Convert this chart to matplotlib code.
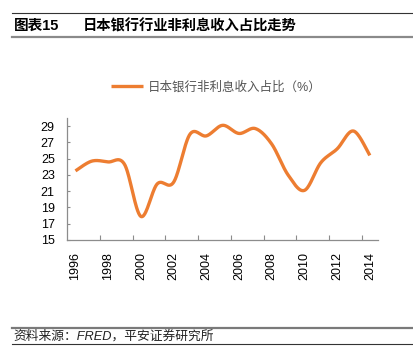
import numpy as np
import matplotlib
matplotlib.use("Agg")
import matplotlib.pyplot as plt
from matplotlib.lines import Line2D

plt.rcParams['font.family'] = ['Liberation Sans', 'Noto Sans CJK SC', 'DejaVu Sans']

years = [1996, 1997, 1998, 1999, 2000, 2001, 2002, 2003, 2004, 2005,
         2006, 2007, 2008, 2009, 2010, 2011, 2012, 2013, 2014]
ratio = [23.5, 24.7, 24.6, 24.3, 17.9, 21.9, 22.1, 28.0, 27.8, 29.1,
         28.1, 28.7, 26.8, 23.0, 21.1, 24.5, 26.2, 28.4, 25.4]
xtick_labels = ['1996', '1998', '2000', '2002', '2004', '2006', '2008', '2010', '2012', '2014']
yticks = [15, 17, 19, 21, 23, 25, 27, 29]
series_name = '日本银行非利息收入占比（%）'
title_num = '图表15'
title_text = '日本银行行业非利息收入占比走势'
source_text = '资料来源：FRED，平安证券研究所'


def smooth(xs, ys, n=30):
    xs = np.asarray(xs, float)
    ys = np.asarray(ys, float)
    px = np.concatenate([[xs[0]], xs, [xs[-1]]])
    py = np.concatenate([[ys[0]], ys, [ys[-1]]])
    ox, oy = [], []
    t = np.linspace(0, 1, n, endpoint=False)
    for i in range(1, len(px) - 2):
        for arr, out in ((px, ox), (py, oy)):
            p0, p1, p2, p3 = arr[i - 1], arr[i], arr[i + 1], arr[i + 2]
            m1 = (p2 - p0) / 2.0
            m2 = (p3 - p1) / 2.0
            h00 = 2 * t**3 - 3 * t**2 + 1
            h10 = t**3 - 2 * t**2 + t
            h01 = -2 * t**3 + 3 * t**2
            h11 = t**3 - t**2
            out.extend(h00 * p1 + h10 * m1 + h01 * p2 + h11 * m2)
    ox.append(xs[-1])
    oy.append(ys[-1])
    return np.array(ox), np.array(oy)


fig = plt.figure(figsize=(4.13, 3.56), dpi=100)
W, H = 413, 356

ax = fig.add_axes([67.3 / W, 1 - 240 / H, (378 - 67.3) / W, (240 - 118) / H])
sx, sy = smooth(years, ratio)
color = '#ED7D31'
ax.plot(sx, sy, color=color, lw=2.4, solid_capstyle='butt', label=series_name)

ax.set_xlim(years[0] - 0.5, years[-1] + 0.5)
ax.set_ylim(15, 30)
ax.set_yticks(yticks)
ax.set_xticks(years[::2])
ax.set_xticklabels(xtick_labels, rotation=90)
ax.set_xticks([y + 1.5 for y in years[:-1:2]], minor=True)
for s in ['top', 'right']:
    ax.spines[s].set_visible(False)
for s in ['left', 'bottom']:
    ax.spines[s].set_color('#8c8c8c')
    ax.spines[s].set_linewidth(0.9)
ax.tick_params(axis='x', which='major', length=0, labelsize=9, pad=9)
ax.tick_params(axis='x', which='minor', direction='in', length=3.5, color='#8c8c8c', width=0.8)
ax.tick_params(axis='y', direction='in', length=2.5, color='#8c8c8c', width=0.8, labelsize=9, pad=9)

leg = ax.legend(loc='center', bbox_to_anchor=(216 / W, 1 - 87 / H), bbox_transform=fig.transFigure,
                frameon=False, fontsize=9, handlelength=2.6, handletextpad=0.35, borderpad=0)
for t in leg.get_texts():
    t.set_color('#555555')

# header
fig.add_artist(Line2D([12 / W, 1], [1 - 13 / H] * 2, color='#333333', lw=0.8))
fig.add_artist(Line2D([12 / W, 1], [1 - 36.5 / H] * 2, color='#8a8a8a', lw=1.6))
fig.text(14 / W, 1 - 26 / H, title_num, fontsize=10.5, fontweight='bold', va='center', ha='left')
fig.text(82.5 / W, 1 - 26 / H, title_text, fontsize=10.3, fontweight='bold', va='center', ha='left')

# footer
fig.add_artist(Line2D([12 / W, 1], [1 - 327.5 / H] * 2, color='#7a7a7a', lw=1.6))
fig.add_artist(Line2D([12 / W, 1], [1 - 344 / H] * 2, color='#333333', lw=0.8))
fig.text(13 / W, 1 - 336 / H, source_text, fontsize=9.2, style='italic', va='center', ha='left', color='#222222')

fig.savefig('out.png', dpi=100)
